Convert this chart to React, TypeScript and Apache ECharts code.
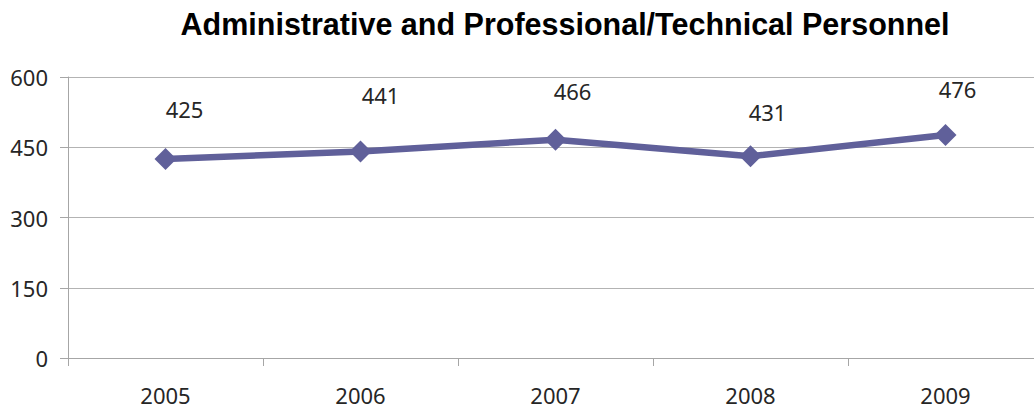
import React, { useEffect, useRef } from "react";
import * as echarts from "echarts";

const titleText = "Administrative and Professional/Technical Personnel";
const years = ["2005", "2006", "2007", "2008", "2009"];
const personnel = [425, 441, 466, 431, 476];
const labelOffsets: [number, number][] = [
  [19, -8],
  [20, -14],
  [17, -7],
  [17, -2],
  [12, -4],
];

export default function App() {
  const ref = useRef<HTMLDivElement>(null);
  useEffect(() => {
    document.body.style.margin = "0";
    const chart = echarts.init(ref.current!, null, { renderer: "svg" });
    const font = "'Noto Sans', sans-serif";
    chart.setOption({
      animation: false,
      backgroundColor: "#ffffff",
      title: {
        text: titleText,
        left: 560,
        top: 3,
        textAlign: "center",
        textStyle: {
          fontFamily: "'Liberation Sans', Arial, sans-serif",
          fontWeight: "bold",
          fontSize: 30.5,
          color: "#000000",
        },
      },
      grid: { left: 68, top: 77, width: 975, height: 281 },
      xAxis: {
        type: "category",
        data: years,
        boundaryGap: true,
        axisLine: { lineStyle: { color: "#a6a6a6", width: 1 } },
        axisTick: { show: true, length: 8, lineStyle: { color: "#a6a6a6" } },
        axisLabel: { fontFamily: font, fontSize: 22, color: "#262626", margin: 26 },
      },
      yAxis: {
        type: "value",
        min: 0,
        max: 600,
        interval: 150,
        axisLine: { show: true, lineStyle: { color: "#a6a6a6", width: 1 } },
        axisTick: { show: true, length: 8, lineStyle: { color: "#a6a6a6" } },
        axisLabel: { fontFamily: font, fontSize: 22, color: "#262626", margin: 20 },
        splitLine: { lineStyle: { color: "#b3b3b3", width: 1 } },
      },
      series: [
        {
          type: "line",
          data: personnel.map((v, i) => ({
            value: v,
            label: { offset: labelOffsets[i] },
          })),
          symbol: "diamond",
          symbolSize: 22,
          lineStyle: { color: "#60609a", width: 6.5 },
          itemStyle: { color: "#60609a" },
          label: {
            show: true,
            position: "top",
            distance: 20,
            fontFamily: font,
            fontSize: 22,
            color: "#262626",
          },
        },
      ],
    });
    return () => chart.dispose();
  }, []);
  return (
    <div style={{ width: 1034, height: 412, overflow: "hidden", position: "relative" }}>
      <div ref={ref} style={{ width: 1060, height: 412 }} />
    </div>
  );
}
